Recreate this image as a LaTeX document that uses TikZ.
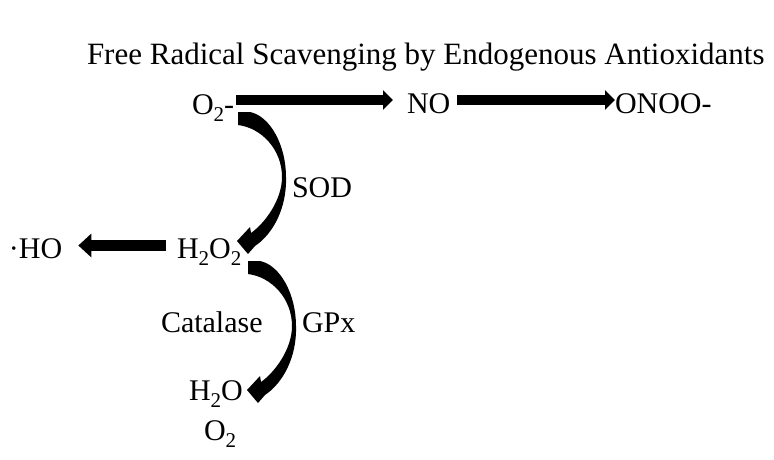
\documentclass[tikz,border=0pt]{standalone}
\usepackage{fontspec}
\setmainfont{Liberation Serif}
\usetikzlibrary{arrows.meta,calc}
\newcommand\subtwo{\raisebox{-7pt}{\fontsize{21}{21}\selectfont 2}}
\begin{document}
\begin{tikzpicture}[x=1pt,y=-1pt,
  lbl/.style={anchor=base west,inner sep=0pt,outer sep=0pt,font=\fontsize{30}{36}\selectfont},
  fatarrow/.style={line width=10pt,-{Triangle[length=10pt,width=19pt]}},
  fatarrowb/.style={line width=11pt,-{Triangle[length=13pt,width=23pt]}},
  crescent/.pic={
    \fill (238,112) -- (250,112)
      .. controls (270,116) and (286,145) .. (286,177)
      .. controls (287,208) and (273,234) .. (255,246)
      -- (248,254) -- (237,241) -- (250,227) -- (251,233)
      .. controls (265,223) and (282,200) .. (282,177)
      .. controls (282,150) and (262,128) .. (238,125) -- cycle;
  }]
\useasboundingbox (0,0) rectangle (774,459);
\node[lbl,font=\fontsize{31}{36}\selectfont] (title) at (87,64) {Free Radical Scavenging by Endogenous Antioxidants};
\node[lbl] (o2) at (192,114) {O\subtwo-};
\node[lbl] (no) at (407,113) {NO};
\node[lbl] (onoo) at (615,113) {ONOO-};
\node[lbl] (ho) at (9,258) {·HO};
\node[lbl] (h2o2) at (177,258) {H\subtwo O\subtwo};
\node[lbl] (sod) at (292,197) {SOD};
\node[lbl] (cat) at (161,332) {Catalase};
\node[lbl] (gpx) at (302,332) {GPx};
\node[lbl] (h2o) at (189,400) {H\subtwo O};
\node[lbl] (o2b) at (204,440) {O\subtwo};
\coordinate (r1) at (0,100);
\coordinate (r2) at (0,245.5);
\draw[fatarrow,shorten <=2pt,shorten >=14pt] (o2.east |- r1) -- (no.west |- r1);
\draw[fatarrow,shorten <=7pt,shorten >=0pt] (no.east |- r1) -- (onoo.west |- r1);
\draw[fatarrowb,shorten <=11pt,shorten >=16pt] (h2o2.west |- r2) -- (ho.east |- r2);
\pic at (0,0) {crescent};
\pic at (10,149) {crescent};
\end{tikzpicture}
\end{document}
